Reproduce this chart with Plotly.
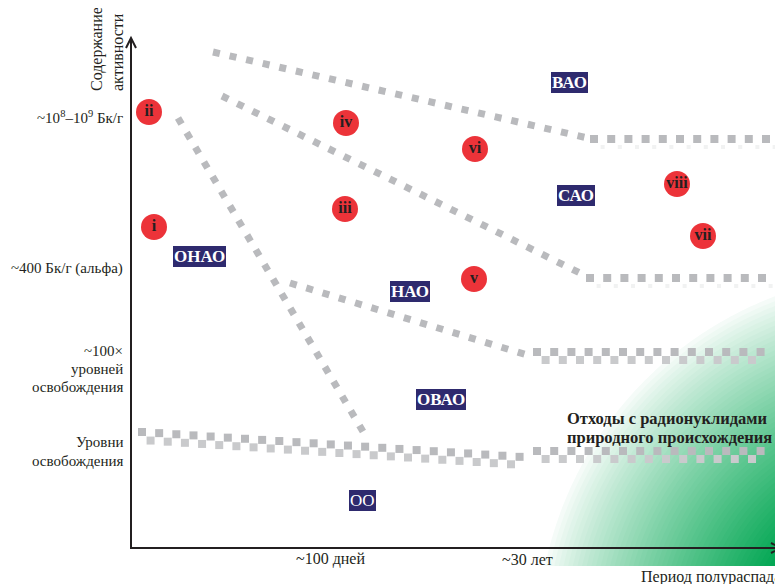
import numpy as np
import plotly.graph_objects as go

W, H = 783, 584
OFF = 8  # page body margin in the browser
SERIF = '"Liberation Serif", "Times New Roman", "DejaVu Serif", serif'
GRAY = "#b9babd"
GRAY_LIGHT = "#c9cacc"
NAVY = "#2e2a6e"
RED = "#ec3339"
INK = "#231f20"

# ---- diagram data (coordinates in diagram space) ----
# dotted (sloped) boundaries
dotted_lines = {
    "vao": ([213, 592], [52, 139]),
    "sao": ([222, 582], [96, 274]),
    "onao": ([178, 368], [118, 440]),
    "nao": ([290, 527], [283, 355]),
}
# checkered boundaries: (x0, y0, x1, y1, bottom-row strength)
checker_lines = {
    "vao_flat": (594, 139, 778, 139, 0.25),
    "sao_flat": (590, 278, 772, 278, 0.25),
    "nao_flat": (537, 352, 767, 352, 1.0),
    "oo_slope": (142, 432, 522, 457, 1.0),
    "oo_flat": (537, 451, 767, 451, 1.0),
}

# red numbered markers
circle_labels = ["i", "ii", "iii", "iv", "v", "vi", "vii", "viii"]
circle_x = [154, 149, 345, 346, 474, 475, 703, 677]
circle_y = [227, 112, 209, 123, 279, 149, 236, 184]

# class labels (navy boxes)
class_labels = ["ВАО", "САО", "ОНАО", "НАО", "ОВАО", "ОО"]
class_x = [569, 576, 199, 410, 441, 362]
class_y = [82, 195, 256, 291, 399, 500]
class_bold = [True, True, True, True, True, False]

# axis level labels (one entry per text line)
y_tick_lines = ["~10<sup>8</sup>–10<sup>9</sup> Бк/г", "~400 Бк/г (альфа)",
                "~100×", "уровней", "освобождения", "Уровни", "освобождения"]
y_tick_line_pos = [117, 268, 351, 369, 387, 442, 461]
x_tick_text = ["~100 дней", "~30 лет"]
x_tick_pos = [330, 527]
y_title_lines = ["Содержание", "активности"]
y_title_x = [97, 117]
natural_lines = ["Отходы с радионуклидами", "природного происхождения"]
natural_y = [418, 437]

fig = go.Figure()
shapes = []

# ---- green natural-radionuclide region (bands following its curved edge) ----
cx, cy, R0, R1 = 905, 640, 372, 150
GB = 566
green = np.array([0, 166, 81])
white = np.array([255, 255, 255])
nb = 50
th = np.linspace(np.pi, 1.5 * np.pi, 220)
for k in range(nb):
    r = R0 - (R0 - R1) * k / (nb - 1)
    t = (k / (nb - 1)) ** 0.85
    col = (white * (1 - t) + green * t).astype(int)
    px = np.minimum(cx + r * np.cos(th), W)
    py = np.minimum(cy + r * np.sin(th), GB)
    path = f"M {W},{GB} L {px[0]:.1f},{GB} " + " ".join(
        f"L {a:.1f},{b:.1f}" for a, b in zip(px, py)) + f" L {W},{py[-1]:.1f} Z"
    shapes.append(dict(type="path", path=path, xref="x", yref="y",
                       fillcolor=f"rgb({col[0]},{col[1]},{col[2]})",
                       line=dict(width=0), layer="below"))

# ---- dotted boundaries ----
for name, (xs, ys) in dotted_lines.items():
    fig.add_trace(go.Scatter(x=xs, y=ys, mode="lines", hoverinfo="skip",
                             line=dict(color=GRAY, width=7, dash="7px,10px"),
                             showlegend=False))

# ---- checkered boundaries ----
step = 17.2
for name, (x0, y0, x1, y1, s) in checker_lines.items():
    L = np.hypot(x1 - x0, y1 - y0)
    n = int(L // step) + 1
    tt = np.arange(n) * step / L
    tx = x0 + (x1 - x0) * tt
    ty = y0 + (y1 - y0) * tt
    bt = (np.arange(n) * step + step / 2) / L
    bt = bt[bt <= 1]
    bx = x0 + (x1 - x0) * bt
    by = y0 + (y1 - y0) * bt + 8
    fig.add_trace(go.Scatter(x=tx, y=ty, mode="markers", hoverinfo="skip",
                             marker=dict(symbol="square", size=8, color=GRAY,
                                         line=dict(width=0)), showlegend=False))
    fig.add_trace(go.Scatter(x=bx, y=by, mode="markers", hoverinfo="skip",
                             marker=dict(symbol="square", size=8 if s > 0.5 else 4,
                                         color=GRAY_LIGHT, opacity=s,
                                         line=dict(width=0)), showlegend=False))

# ---- red circles ----
fig.add_trace(go.Scatter(x=circle_x, y=circle_y, mode="markers+text",
                         text=[f"<b>{t}</b>" for t in circle_labels],
                         textposition="middle center", hoverinfo="skip",
                         textfont=dict(family=SERIF, size=16, color=INK),
                         marker=dict(symbol="circle", size=26, color=RED,
                                     line=dict(width=0)), showlegend=False))

annotations = []
# ---- class labels ----
for lab, x, y, b in zip(class_labels, class_x, class_y, class_bold):
    annotations.append(dict(x=x, y=y, xref="x", yref="y", showarrow=False,
                            text=f"<b>{lab}</b>" if b else lab,
                            font=dict(family=SERIF, size=17, color="white"),
                            bgcolor=NAVY, borderpad=1, borderwidth=0))

# ---- axes ----
shapes.append(dict(type="line", x0=131, y0=548, x1=131, y1=39, xref="x", yref="y",
                   line=dict(color=INK, width=2)))
shapes.append(dict(type="line", x0=130, y0=548, x1=780, y1=548, xref="x", yref="y",
                   line=dict(color=INK, width=2)))
shapes.append(dict(type="path", path="M 126,48 L 131,38 L 136,48", xref="x", yref="y",
                   line=dict(color=INK, width=2)))
shapes.append(dict(type="path", path="M 771,543 L 781,548 L 771,553", xref="x", yref="y",
                   line=dict(color=INK, width=2)))

# axis titles
for t, x in zip(y_title_lines, y_title_x):
    annotations.append(dict(x=x, y=93, xref="x", yref="y", showarrow=False,
                            yanchor="bottom", text=t, textangle=-90,
                            font=dict(family=SERIF, size=16, color=INK)))
annotations.append(dict(x=783, y=577, xref="x", yref="y", showarrow=False,
                        xanchor="right", text="Период полураспада",
                        font=dict(family=SERIF, size=16, color=INK)))
for t, y in zip(y_tick_lines, y_tick_line_pos):
    annotations.append(dict(x=125, y=y, xref="x", yref="y", showarrow=False,
                            xanchor="right", align="right", text=t,
                            font=dict(family=SERIF, size=15, color=INK)))
for t, x in zip(x_tick_text, x_tick_pos):
    annotations.append(dict(x=x, y=559, xref="x", yref="y", showarrow=False,
                            text=t, font=dict(family=SERIF, size=16, color=INK)))

for t, y in zip(natural_lines, natural_y):
    annotations.append(dict(x=565, y=y, xref="x", yref="y", showarrow=False,
                            xanchor="left", align="left", text=f"<b>{t}</b>",
                            font=dict(family=SERIF, size=16.5, color=INK)))

# the page has an 8px body margin, so the figure covers screen pixels 8..783 / 8..584
fig.update_layout(
    width=W - OFF, height=H - OFF, margin=dict(l=0, r=0, t=0, b=0),
    paper_bgcolor="white", plot_bgcolor="white",
    xaxis=dict(range=[OFF, W], visible=False, fixedrange=True),
    yaxis=dict(range=[H, OFF], visible=False, fixedrange=True),
    shapes=shapes, annotations=annotations, showlegend=False,
)
fig.write_html("out.html")
